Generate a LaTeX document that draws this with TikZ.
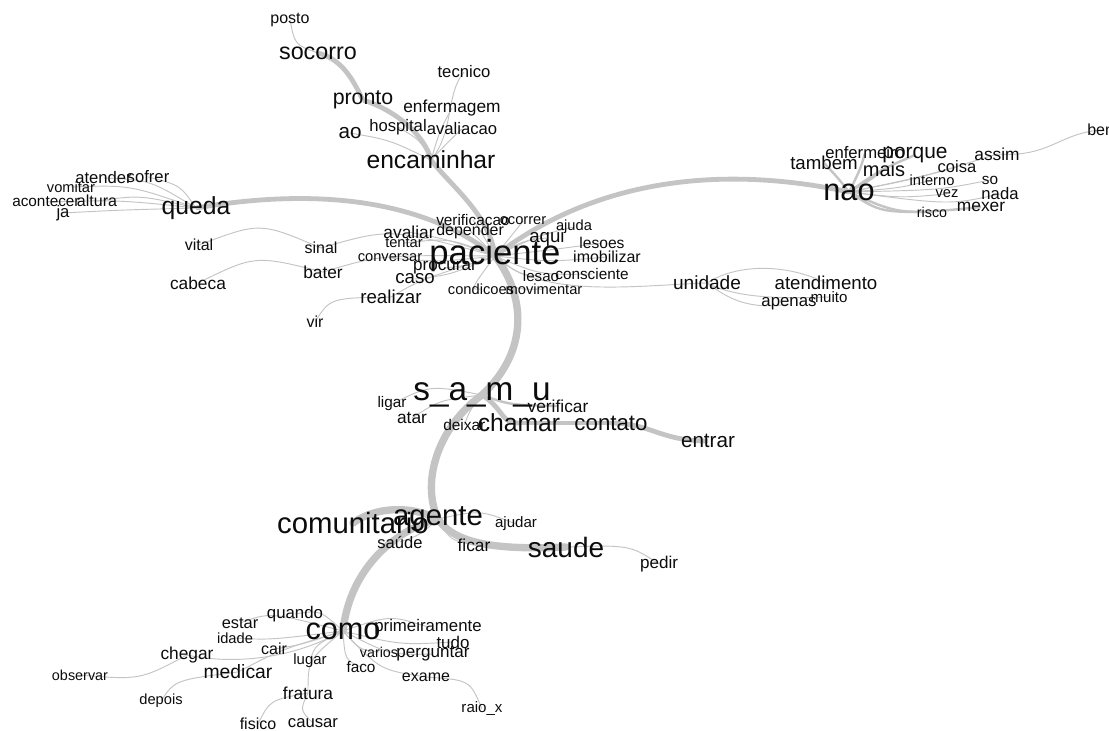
\documentclass[tikz,border=0pt]{standalone}
\usepackage{fontspec}
\setmainfont{Liberation Sans}
\usetikzlibrary{backgrounds}
\definecolor{eg}{RGB}{196,196,196}
\definecolor{txt}{RGB}{12,12,12}
\begin{document}
\begin{tikzpicture}[x=0.75pt,y=-0.75pt,
 lbl/.style={font=\fontsize{#1}{#1}\selectfont,inner sep=0pt,text=txt},
 ln/.style={draw=eg,line width=0.7pt},
 lm/.style={draw=eg,line width=1.8pt},
 lk/.style={draw=eg,line width=3.6pt},
 lt/.style={draw=eg,line width=5.5pt,line cap=round}]
\useasboundingbox (0,0) rectangle (1109,731);
% top
\node[lbl=12] (posto) at (290,20) {posto};
\node[lbl=17.5] (socorro) at (318,53) {socorro};
\node[lbl=16] (pronto) at (363,100) {pronto};
\node[lbl=12.5] (tecnico) at (464,72) {tecnico};
\node[lbl=13] (enfermagem) at (452,108) {enfermagem};
\node[lbl=12.5] (hospital) at (398,127) {hospital};
\node[lbl=12.5] (avaliacao) at (462,129) {avaliacao};
\node[lbl=15.5] (ao) at (350,133) {ao};
\node[lbl=18.5] (encaminhar) at (431,160) {encaminhar};
% queda
\node[lbl=18.5] (queda) at (196,208) {queda};
\node[lbl=12.5,anchor=west] (atender) at (75,178) {atender};
\node[lbl=12.5] (sofrer) at (148,177) {sofrer};
\node[lbl=11] (vomitar) at (71,187) {vomitar};
\node[lbl=11.5,anchor=west] (acontecer) at (12,202) {acontecer};
\node[lbl=12] (altura) at (97,201) {altura};
\node[lbl=12.5] (ja) at (63,213) {ja};
% left of paciente
\node[lbl=12] (vital) at (199,245) {vital};
\node[lbl=12] (sinal) at (321,248) {sinal};
\node[lbl=13] (bater) at (323,272) {bater};
\node[lbl=13] (cabeca) at (198,283) {cabeca};
\node[lbl=14] (realizar) at (391,297) {realizar};
\node[lbl=12] (vir) at (315,322) {vir};
% paciente cluster
\node[lbl=13] (avaliar) at (409,232) {avaliar};
\node[lbl=12,anchor=west] (depender) at (436,231) {depender};
\node[lbl=11.5,anchor=west] (verificacao) at (436,220) {verificacao};
\node[lbl=11] (ocorrer) at (523,221) {ocorrer};
\node[lbl=11] (ajuda) at (574,227) {ajuda};
\node[lbl=14] (aqui) at (547,238) {aqui};
\node[lbl=11.7] (lesoes) at (602,243) {lesoes};
\node[lbl=11] (tentar) at (404,243) {tentar};
\node[lbl=26] (paciente) at (495,256) {paciente};
\node[lbl=12] (imobilizar) at (607,257) {imobilizar};
\node[lbl=11] (conversar) at (390,258) {conversar};
\node[lbl=12.8] (procurar) at (445,268) {procurar};
\node[lbl=14] (caso) at (415,279) {caso};
\node[lbl=11.3] (lesao) at (541,276) {lesao};
\node[lbl=11.5] (consciente) at (592,274) {consciente};
\node[lbl=11] (condicoes) at (481,289) {condicoes};
\node[lbl=11] (movimentar) at (544,289) {movimentar};
% nao cluster
\node[lbl=12,anchor=west] (bem) at (1087,130) {bem};
\node[lbl=12.5,anchor=west] (enfermeiro) at (825,153) {enfermeiro};
\node[lbl=15.7] (porque) at (915,155) {porque};
\node[lbl=14] (tambem) at (824,163) {tambem};
\node[lbl=15] (mais) at (884,169) {mais};
\node[lbl=13] (assim) at (997,154) {assim};
\node[lbl=12.4] (coisa) at (957,167) {coisa};
\node[lbl=11] (interno) at (932,180) {interno};
\node[lbl=11.5] (so) at (990,180) {so};
\node[lbl=23] (nao) at (849,192) {nao};
\node[lbl=11] (vez) at (947,194) {vez};
\node[lbl=12.5] (nada) at (1000,194) {nada};
\node[lbl=13] (mexer) at (981,207) {mexer};
\node[lbl=10.7] (risco) at (932,212) {risco};
% unidade
\node[lbl=14.3] (unidade) at (707,283) {unidade};
\node[lbl=14] (atendimento) at (826,283) {atendimento};
\node[lbl=12.6] (apenas) at (789,304) {apenas};
\node[lbl=11.3] (muito) at (829,297) {muito};
% samu
\node[lbl=25] (samu) at (482,395) {s\_a\_m\_u};
\node[lbl=11.5] (ligar) at (392,404) {ligar};
\node[lbl=13] (verificar) at (558,406) {verificar};
\node[lbl=13] (atar) at (412,418) {atar};
\node[lbl=11.6,anchor=west] (deixar) at (443,425) {deixar};
\node[lbl=18.5] (chamar) at (519,423) {chamar};
\node[lbl=16.7] (contato) at (611,423) {contato};
\node[lbl=15.5] (entrar) at (708,441) {entrar};
% agente
\node[lbl=22] (comunitario) at (353,523) {comunitario};
\node[lbl=22] (agente) at (438,519) {agente};
\node[lbl=11.3] (ajudar) at (516,524) {ajudar};
\node[lbl=12.4] (saude2) at (400,542) {saúde};
\node[lbl=13] (ficar) at (474,545) {ficar};
\node[lbl=21] (saude) at (566,547) {saude};
\node[lbl=12.8] (pedir) at (659,564) {pedir};
% como
\node[lbl=12.6] (quando) at (295,614) {quando};
\node[lbl=12.3] (estar) at (240,623) {estar};
\node[lbl=23] (como) at (343,631) {como};
\node[lbl=12.6] (primeiramente) at (428,627) {primeiramente};
\node[lbl=11] (idade) at (235,638) {idade};
\node[lbl=12.7] (tudo) at (453,642) {tudo};
\node[lbl=12] (cair) at (274,649) {cair};
\node[lbl=13] (chegar) at (187,655) {chegar};
\node[lbl=10.7] (varios) at (379,652) {varios};
\node[lbl=12.8] (perguntar) at (433,654) {perguntar};
\node[lbl=11.2] (lugar) at (310,661) {lugar};
\node[lbl=11.5] (faco) at (361,667) {faco};
\node[lbl=14.5] (medicar) at (238,672) {medicar};
\node[lbl=10.8] (observar) at (80,675) {observar};
\node[lbl=12] (exame) at (426,677) {exame};
\node[lbl=13] (fratura) at (308,693) {fratura};
\node[lbl=11] (depois) at (161,701) {depois};
\node[lbl=11.3] (raiox) at (482,709) {raio\_x};
\node[lbl=12] (fisico) at (258,724) {fisico};
\node[lbl=12.5] (causar) at (313,723) {causar};

\begin{scope}[on background layer]
\fill[white] (0,0) rectangle (1109,731);
% trunk
\draw[lt] (paciente.center) .. controls (525,295) and (530,350) .. (samu.center);
\draw[lt] (samu.center) .. controls (440,425) and (420,480) .. (agente.center);
\draw[lt] (agente.center) .. controls (400,528) and (350,565) .. (como.center);
\draw[lt] (comunitario.center) .. controls (375,507) and (410,505) .. (agente.center);
\draw[lt] (agente.center) .. controls (455,545) and (500,550) .. (saude.center);
% top
\draw[lk] (paciente.center) .. controls (490,215) and (450,185) .. (encaminhar.center);
\draw[lk] (encaminhar.center) .. controls (425,135) and (395,110) .. (pronto.center);
\draw[lk] (pronto.center) .. controls (355,85) and (345,60) .. (socorro.center);
\draw[ln] (socorro.center) .. controls (295,45) .. (posto.center);
\draw[ln] (encaminhar.center) .. controls (455,130) and (445,95) .. (tecnico.center);
\draw[ln] (encaminhar.center) .. controls (440,130) .. (enfermagem.center);
\draw[ln] (encaminhar.center) .. controls (420,140) .. (hospital.center);
\draw[ln] (encaminhar.center) .. controls (450,140) .. (avaliacao.center);
\draw[ln] (encaminhar.center) .. controls (390,140) .. (ao.center);
% queda
\draw[lk] (paciente.center) .. controls (430,205) and (330,185) .. (queda.center);
\draw[ln] (queda.center) .. controls (180,185) .. (sofrer.center);
\draw[ln] (queda.center) .. controls (150,180) .. (atender.center);
\draw[ln] (queda.center) .. controls (130,185) .. (vomitar.center);
\draw[ln] (queda.center) .. controls (140,195) .. (altura.center);
\draw[ln] (queda.center) .. controls (120,200) .. (acontecer.center);
\draw[ln] (queda.center) .. controls (120,210) .. (ja.center);
% paciente left
\draw[ln] (paciente.center) .. controls (390,228) .. (sinal.center);
\draw[ln] (sinal.center) .. controls (260,222) .. (vital.center);
\draw[ln] (paciente.center) .. controls (380,255) .. (bater.center);
\draw[ln] (bater.center) .. controls (255,255) .. (cabeca.center);
\draw[ln] (paciente.center) .. controls (420,280) .. (realizar.center);
\draw[ln] (realizar.center) .. controls (330,298) .. (vir.center);
\draw[ln] (paciente.center) .. controls (450,240) .. (avaliar.center);
\draw[ln] (paciente.center) .. controls (450,238) .. (tentar.center);
\draw[ln] (paciente.center) .. controls (440,262) .. (conversar.center);
\draw[ln] (paciente.center) .. controls (470,265) .. (procurar.center);
\draw[ln] (paciente.center) .. controls (450,275) .. (caso.center);
\draw[ln] (paciente.center) .. controls (480,230) .. (verificacao.center);
\draw[ln] (paciente.center) .. controls (480,240) .. (depender.center);
\draw[ln] (paciente.center) .. controls (520,225) .. (ocorrer.center);
\draw[ln] (paciente.center) .. controls (540,235) .. (ajuda.center);
\draw[ln] (paciente.center) .. controls (525,240) .. (aqui.center);
\draw[ln] (paciente.center) .. controls (550,250) .. (lesoes.center);
\draw[ln] (paciente.center) .. controls (550,262) .. (imobilizar.center);
\draw[ln] (paciente.center) .. controls (520,275) .. (lesao.center);
\draw[ln] (paciente.center) .. controls (540,275) .. (consciente.center);
\draw[ln] (paciente.center) .. controls (470,290) .. (condicoes.center);
\draw[ln] (paciente.center) .. controls (510,290) .. (movimentar.center);
% unidade
\draw[ln] (paciente.center) .. controls (540,300) and (640,285) .. (unidade.center);
\draw[ln] (unidade.center) .. controls (740,262) and (790,265) .. (atendimento.center);
\draw[ln] (unidade.center) .. controls (740,300) and (790,298) .. (muito.center);
\draw[ln] (unidade.center) .. controls (730,300) and (750,310) .. (apenas.center);
% nao
\draw[lk] (paciente.center) .. controls (580,190) and (700,160) .. (nao.center);
\draw[lm] (nao.center) .. controls (838,178) .. (tambem.center);
\draw[lm] (nao.center) .. controls (860,170) .. (enfermeiro.center);
\draw[lm] (nao.center) .. controls (880,170) .. (porque.center);
\draw[lm] (nao.center) .. controls (870,180) .. (mais.center);
\draw[ln] (nao.center) .. controls (930,175) .. (assim.center);
\draw[ln] (assim.center) .. controls (1050,158) and (1060,132) .. (bem.center);
\draw[ln] (nao.center) .. controls (910,180) .. (coisa.center);
\draw[ln] (nao.center) .. controls (900,188) .. (interno.center);
\draw[ln] (nao.center) .. controls (940,190) .. (so.center);
\draw[ln] (nao.center) .. controls (900,198) .. (vez.center);
\draw[ln] (nao.center) .. controls (950,205) .. (nada.center);
\draw[lm] (nao.center) .. controls (900,215) .. (mexer.center);
\draw[lm] (nao.center) .. controls (880,212) .. (risco.center);
% samu
\draw[lk] (samu.center) .. controls (505,410) and (500,423) .. (chamar.center);
\draw[lk] (chamar.center) -- (contato.center);
\draw[lk] (contato.center) .. controls (650,423) and (660,441) .. (entrar.center);
\draw[lm] (samu.center) .. controls (510,405) .. (verificar.center);
\draw[ln] (samu.center) .. controls (430,385) .. (ligar.center);
\draw[ln] (samu.center) .. controls (440,400) .. (atar.center);
\draw[ln] (samu.center) .. controls (470,410) .. (deixar.center);
% agente
\draw[ln] (agente.center) .. controls (480,510) .. (ajudar.center);
\draw[ln] (agente.center) .. controls (450,540) .. (ficar.center);
\draw[ln] (agente.center) .. controls (420,535) .. (saude2.center);
\draw[ln] (saude.center) .. controls (630,545) .. (pedir.center);
% como
\draw[ln] (como.center) .. controls (320,610) .. (quando.center);
\draw[ln] (como.center) .. controls (270,612) .. (estar.center);
\draw[ln] (como.center) .. controls (270,640) .. (idade.center);
\draw[ln] (como.center) .. controls (300,645) .. (cair.center);
\draw[ln] (como.center) .. controls (280,665) and (220,662) .. (chegar.center);
\draw[ln] (chegar.center) .. controls (140,680) .. (observar.center);
\draw[ln] (como.center) .. controls (280,650) .. (medicar.center);
\draw[ln] (medicar.center) .. controls (175,680) .. (depois.center);
\draw[ln] (como.center) .. controls (315,645) .. (lugar.center);
\draw[ln] (como.center) .. controls (308,660) .. (fratura.center);
\draw[ln] (fratura.center) .. controls (270,700) .. (fisico.center);
\draw[ln] (fratura.center) .. controls (300,710) .. (causar.center);
\draw[ln] (como.center) .. controls (390,615) .. (primeiramente.center);
\draw[ln] (como.center) .. controls (400,645) .. (tudo.center);
\draw[ln] (como.center) .. controls (360,650) .. (varios.center);
\draw[ln] (como.center) .. controls (390,655) .. (perguntar.center);
\draw[ln] (como.center) .. controls (345,660) .. (faco.center);
\draw[ln] (como.center) .. controls (380,670) .. (exame.center);
\draw[ln] (exame.center) .. controls (470,680) .. (raiox.center);
\end{scope}
\end{tikzpicture}
\end{document}
